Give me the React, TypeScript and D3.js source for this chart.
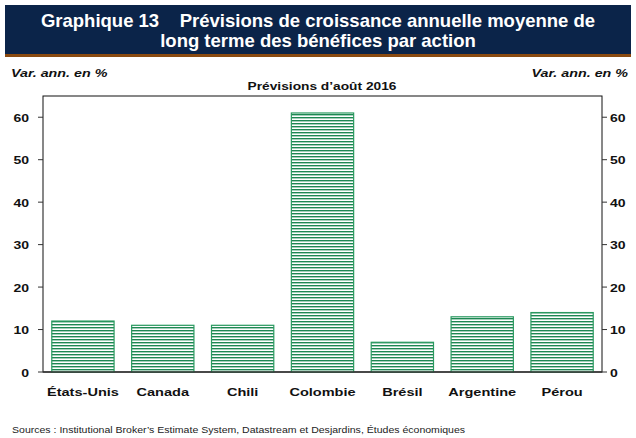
import React from "react";
import * as d3 from "d3";

const categories = ["États-Unis", "Canada", "Chili", "Colombie", "Brésil", "Argentine", "Pérou"];
const values = [12, 11, 11, 61, 7, 13, 14];
const yTicks = [0, 10, 20, 30, 40, 50, 60];

const W = 636, H = 438;
const m = { left: 43, right: 602, top: 96, bottom: 372 };

function T(props: { x: number; y: number; sx?: number; size: number; anchor?: string; bold?: boolean; italic?: boolean; fill?: string; children: React.ReactNode }) {
  const { x, y, sx = 1, size, anchor = "start", bold = true, italic = false, fill = "#111", children } = props;
  return (
    <text transform={`translate(${x},${y}) scale(${sx},1)`} x={0} y={0} textAnchor={anchor as any}
      fontSize={size} fontWeight={bold ? "bold" : "normal"} fontStyle={italic ? "italic" : "normal"} fill={fill}>
      {children}
    </text>
  );
}

export default function App() {
  const x = d3.scaleBand<string>().domain(categories).range([m.left, m.right]).paddingInner(0.22).paddingOuter(0.11);
  const y = d3.scaleLinear().domain([0, 65]).range([m.bottom, m.top]);
  const font = "Arial, 'Liberation Sans', sans-serif";
  return (
    <svg width={W} height={H} style={{ position: "absolute", left: 0, top: 0, background: "#fff" }} fontFamily={font}>
      <defs>
        <pattern id="stripes" width="4" height="3" patternUnits="userSpaceOnUse">
          <rect width="4" height="3" fill="#fff" />
          <rect y="0" width="4" height="1.4" fill="#1d8752" />
        </pattern>
      </defs>
      <rect x={5} y={5} width={626} height={49} fill="#0b2449" />
      <rect x={5} y={54} width={626} height={3} fill="#8a4a10" />
      <text x={318} y={27} textAnchor="middle" fill="#fff" fontWeight="bold" fontSize={18.5} xmlSpace="preserve">Graphique 13    Prévisions de croissance annuelle moyenne de</text>
      <text x={318} y={47} textAnchor="middle" fill="#fff" fontWeight="bold" fontSize={18.5}>long terme des bénéfices par action</text>
      <T x={11} y={77} size={11} sx={1.3} italic>Var. ann. en %</T>
      <T x={628} y={77} size={11} sx={1.3} italic anchor="end">Var. ann. en %</T>
      <T x={322} y={90} size={11} sx={1.25} anchor="middle">Prévisions d’août 2016</T>
      <rect x={m.left} y={m.top} width={m.right - m.left} height={m.bottom - m.top} fill="none" stroke="#111" strokeWidth={1} />
      {categories.map((c, i) => (
        <rect key={c} x={x(c)!} y={y(values[i])} width={x.bandwidth()} height={y(0) - y(values[i])}
          fill="url(#stripes)" stroke="#2a9a60" strokeWidth={1.2} />
      ))}
      <line x1={m.left} x2={m.right} y1={y(0)} y2={y(0)} stroke="#333" strokeWidth={1.5} />
      {yTicks.map(t => (
        <g key={t}>
          <line x1={m.left - 5} x2={m.left} y1={y(t)} y2={y(t)} stroke="#333" />
          <line x1={m.right} x2={m.right + 5} y1={y(t)} y2={y(t)} stroke="#333" />
          <T x={29} y={y(t) + 4.5} size={11.5} sx={1.22} anchor="end">{t}</T>
          <T x={610} y={y(t) + 4.5} size={11.5} sx={1.22}>{t}</T>
        </g>
      ))}
      {categories.map(c => (
        <T key={c} x={x(c)! + x.bandwidth() / 2} y={395.5} size={11.2} sx={1.3} anchor="middle">{c}</T>
      ))}
      <T x={12} y={433} size={8.5} sx={1.24} bold={false} fill="#222">Sources : Institutional Broker’s Estimate System, Datastream et Desjardins, Études économiques</T>
    </svg>
  );
}
